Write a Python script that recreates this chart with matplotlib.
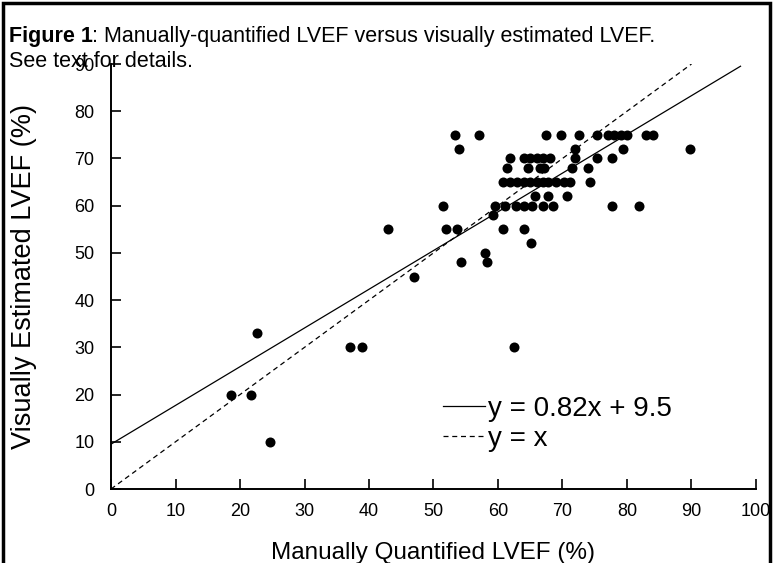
import matplotlib
matplotlib.use("Agg")
import matplotlib.pyplot as plt
from matplotlib.patches import Rectangle

# manually quantified LVEF (x) vs visually estimated LVEF (y)
manual = [53.3, 57.1, 67.4, 69.8, 72.6, 75.4, 77.0, 78.0, 79.0, 80.0, 83.0, 84.0,
          54.0, 71.9, 79.4, 89.7,
          61.9, 64.0, 65.0, 66.0, 67.0, 68.0, 71.9, 75.4, 77.7,
          61.4, 64.7, 66.5, 67.2, 71.4, 74.0,
          60.8, 61.8, 63.0, 64.0, 65.0, 66.0, 67.0, 67.8, 69.0, 70.2, 71.2, 74.3,
          65.7, 67.8, 70.7,
          51.4, 59.5, 61.1, 62.8, 64.0, 65.3, 67.0, 68.5, 77.7, 81.8,
          59.3,
          43.0, 52.0, 53.6, 60.8, 64.0,
          65.1, 58.0, 54.3, 58.3, 47.0,
          22.7, 37.0, 38.9, 62.5,
          18.6, 21.7, 24.7]
visual = [75] * 12 + [72] * 4 + [70] * 9 + [68] * 6 + [65] * 12 + [62] * 3 + \
         [60] * 10 + [58] + [55] * 5 + [52, 50, 48, 48, 45] + [33, 30, 30, 30] + \
         [20, 20, 10]

slope = 0.82
intercept = 9.5
fit_x = [0, 97.6]
ident_x = [0, 90]

xticks = list(range(0, 101, 10))
yticks = list(range(0, 91, 10))

fig = plt.figure(figsize=(7.73, 5.63), dpi=100)
ax = fig.add_axes([0.1436, 0.1314, 0.8344, 0.7549])

ax.scatter(manual, visual, s=52, c="black", marker="o", linewidths=0, zorder=3)
ax.plot(fit_x, [slope * v + intercept for v in fit_x], color="black", lw=0.9,
        label="y = 0.82x + 9.5")
ax.plot(ident_x, ident_x, color="black", lw=0.9, ls=(0, (4, 3)), label="y = x")

ax.set_xlim(0, 100)
ax.set_ylim(0, 90)
ax.set_xticks(xticks)
ax.set_yticks(yticks)
for s in ["top", "right"]:
    ax.spines[s].set_visible(False)
for s in ["left", "bottom"]:
    ax.spines[s].set_linewidth(1.4)
ax.tick_params(direction="in", length=7, width=1.2)
ax.tick_params(axis="x", pad=10)
ax.tick_params(axis="y", pad=12)
for lab in ax.get_xticklabels() + ax.get_yticklabels():
    lab.set_family("Liberation Sans")
    lab.set_fontsize(13)

ax.set_xlabel("Manually Quantified LVEF (%)", fontsize=17.5, family="Liberation Sans", labelpad=16)
ax.set_ylabel("Visually Estimated LVEF (%)", fontsize=19.5, family="Liberation Sans", labelpad=27)

leg = ax.legend(loc="upper left", bbox_to_anchor=(0.515, 0.22), frameon=False,
                prop={"family": "Liberation Sans", "size": 20},
                handlelength=1.5, handletextpad=0.1, labelspacing=0.15,
                borderpad=0, borderaxespad=0)

# caption: bold "Figure 1" then the rest glued to its right edge
cap1 = fig.text(0.011, 0.936, "Figure 1", fontsize=15.5, weight="bold",
                family="Liberation Sans", va="center")
ax.annotate(": Manually-quantified LVEF versus visually estimated LVEF.",
            xy=(1, 0.5), xycoords=cap1, va="center", ha="left",
            fontsize=15.5, family="Liberation Sans", annotation_clip=False)
fig.text(0.011, 0.891, "See text for details.", fontsize=15.5, family="Liberation Sans", va="center")

# frame around the figure (bottom edge falls outside the picture)
fig.add_artist(Rectangle((0.004, -0.1), 0.992, 1.095, transform=fig.transFigure,
                         fill=False, lw=2.5, ec="black"))

fig.savefig("out.png", dpi=100)
